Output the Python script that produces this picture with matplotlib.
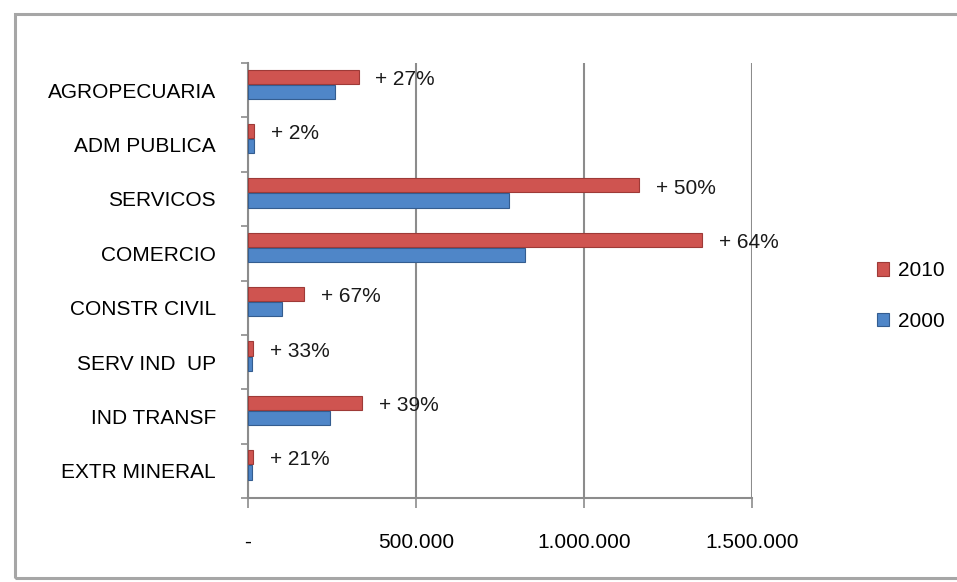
import numpy as np
import matplotlib.pyplot as plt
from matplotlib.patches import Rectangle
from matplotlib.ticker import FixedLocator

plt.rcParams['font.family'] = ['Liberation Sans', 'DejaVu Sans']

categories = ['EXTR MINERAL', 'IND TRANSF', 'SERV IND  UP', 'CONSTR CIVIL',
              'COMERCIO', 'SERVICOS', 'ADM PUBLICA', 'AGROPECUARIA']
v2000 = [12000, 244000, 11000, 100000, 824000, 776000, 18000, 259000]
v2010 = [14500, 339000, 14600, 167000, 1351000, 1164000, 18400, 329000]
growth = ['+ 21%', '+ 39%', '+ 33%', '+ 67%', '+ 64%', '+ 50%', '+ 2%', '+ 27%']
xticks = [0, 500000, 1000000, 1500000]
xticklabels = ['-', '500.000', '1.000.000', '1.500.000']

red = '#cf5450'
red_edge = '#9e3a37'
blue = '#4f86c8'
blue_edge = '#345d90'
grid = '#8c8c8c'
fs = 15

fig = plt.figure(figsize=(9.57, 5.82), dpi=100)
fig.patches.append(Rectangle((15 / 957, 4 / 582), 1.0, 1 - 18 / 582,
                             transform=fig.transFigure, fill=False,
                             edgecolor='#a6a6a6', linewidth=2.2))

ax = fig.add_axes([248 / 957, 1 - 498 / 582, 504 / 957, 435 / 582])

y = np.arange(len(categories))
h = 0.26
ax.barh(y + 0.25, v2010, height=h, color=red, edgecolor=red_edge,
        linewidth=0.8, label='2010', zorder=3)
ax.barh(y - 0.03, v2000, height=h, color=blue, edgecolor=blue_edge,
        linewidth=0.8, label='2000', zorder=3)

for yi, val, txt in zip(y, v2010, growth):
    ax.annotate(txt, (val, yi + 0.2), xytext=(12, 0), textcoords='offset points',
                va='center', ha='left', fontsize=fs, color='#1a1a1a')

ax.set_xlim(0, 1500000)
ax.set_ylim(-0.5, 7.5)
ax.set_xticks(xticks)
ax.set_xticklabels(xticklabels, fontsize=fs)
ax.set_yticks(y)
ax.set_yticklabels(categories, fontsize=fs)
ax.yaxis.set_minor_locator(FixedLocator(np.arange(-0.5, 8, 1)))
ax.tick_params(axis='y', which='major', length=0, pad=23)
ax.tick_params(axis='y', which='minor', length=5, color=grid, width=1.2)
ax.tick_params(axis='x', length=7, color=grid, width=1.2, pad=18)

ax.grid(axis='x', color=grid, linewidth=1.5, zorder=0)
for side in ['top', 'right']:
    ax.spines[side].set_visible(False)
for side in ['left', 'bottom']:
    ax.spines[side].set_color(grid)
    ax.spines[side].set_linewidth(1.5)

handles, labels = ax.get_legend_handles_labels()
fig.legend(handles, labels, loc='center left', bbox_to_anchor=(858 / 957, 1 - 296 / 582),
           frameon=False, fontsize=fs, handlelength=0.6, handleheight=0.6,
           handletextpad=0.4, labelspacing=1.5)

fig.savefig('out.png', dpi=100)
